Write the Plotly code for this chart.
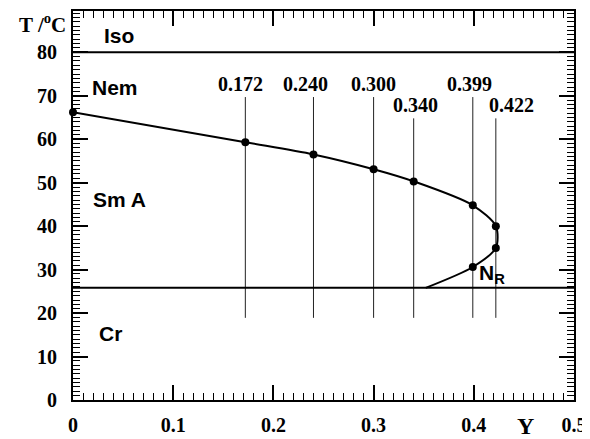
import plotly.graph_objects as go

# Phase boundary data (Y, T in °C)
curve_Y = [0.0, 0.172, 0.240, 0.300, 0.340, 0.399, 0.422, 0.422, 0.399, 0.352]
curve_T = [66.2, 59.3, 56.5, 53.1, 50.3, 44.8, 40.0, 35.0, 30.6, 25.8]
marker_Y = [0.0, 0.172, 0.240, 0.300, 0.340, 0.399, 0.422, 0.422, 0.399]
marker_T = [66.2, 59.3, 56.5, 53.1, 50.3, 44.8, 40.0, 35.0, 30.6]

# Vertical composition lines
comp_Y = [0.172, 0.240, 0.300, 0.340, 0.399, 0.422]
comp_labels = ["0.172", "0.240", "0.300", "0.340", "0.399", "0.422"]
comp_top = [69.7, 69.7, 69.7, 64.8, 69.7, 64.8]
comp_bottom = 18.9

# Transition temperatures
T_iso = 80.0
T_cr = 25.8

# Region labels
regions = ["Iso", "Nem", "Sm A", "Cr"]
region_Y = [0.029, 0.017, 0.018, 0.024]
region_T = [83.8, 71.8, 46.2, 15.4]

x_ticks = [0, 0.1, 0.2, 0.3, 0.4, 0.5]
x_ticklabels = ["0", "0.1", "0.2", "0.3", "0.4", "0.5"]
y_ticks = [0, 10, 20, 30, 40, 50, 60, 70, 80]

serif = "Liberation Serif, Times New Roman, serif"
sans = "Liberation Sans, Arial, sans-serif"

fig = go.Figure()

for y, top in zip(comp_Y, comp_top):
    fig.add_trace(go.Scatter(x=[y, y], y=[comp_bottom, top], mode="lines",
                             line=dict(color="#222", width=1), showlegend=False,
                             hoverinfo="skip"))

for t in [T_iso, T_cr]:
    fig.add_trace(go.Scatter(x=[0, 0.5], y=[t, t], mode="lines",
                             line=dict(color="black", width=2), showlegend=False,
                             hoverinfo="skip"))

fig.add_trace(go.Scatter(x=curve_Y, y=curve_T, mode="lines",
                         line=dict(color="black", width=2, shape="spline", smoothing=0.8),
                         showlegend=False))
fig.add_trace(go.Scatter(x=marker_Y, y=marker_T, mode="markers",
                         marker=dict(color="black", size=8), showlegend=False,
                         cliponaxis=False))

ann = []
label_shift = [-5, -8, 0, 2, -3, 16]
for y, top, lab, sh in zip(comp_Y, comp_top, comp_labels, label_shift):
    ann.append(dict(x=y, y=top, text="<b>%s</b>" % lab, showarrow=False, xshift=sh, yshift=0,
                    yanchor="bottom", xanchor="center",
                    font=dict(family=serif, size=20, color="black")))
for lab, x, y in zip(regions, region_Y, region_T):
    ann.append(dict(x=x, y=y, text="<b>%s</b>" % lab, showarrow=False,
                    xanchor="left", yanchor="middle",
                    font=dict(family=sans, size=21, color="black")))
ann.append(dict(x=0.399, y=29.0, text="<b>N<sub>R</sub></b>", showarrow=False,
                xanchor="left", yanchor="middle", xshift=4,
                font=dict(family=sans, size=21, color="black")))
ann.append(dict(x=0.452, y=0, text="<b>Y</b>", showarrow=False, yshift=-11,
                xanchor="center", yanchor="top",
                font=dict(family=serif, size=24, color="black")))
ann.append(dict(x=0, y=1, xref="paper", yref="paper", text="<b>T /<sup>o</sup>C</b>",
                showarrow=False, xanchor="right", yanchor="top", xshift=-5, yshift=3,
                font=dict(family=serif, size=21, color="black")))

axis_common = dict(showline=True, linecolor="black", linewidth=2, mirror="ticks",
                   ticks="inside", ticklen=15, tickwidth=1.5, tickcolor="black",
                   showgrid=False, zeroline=False, automargin=False,
                   tickfont=dict(family=serif, size=20, color="black"))

# The page places the figure 8px in from the top-left corner, so the
# figure is sized to fill the remaining window.
fig.update_layout(
    width=582, height=431,
    margin=dict(l=65, r=16, t=3, b=39, autoexpand=False),
    paper_bgcolor="white", plot_bgcolor="white",
    xaxis=dict(range=[0, 0.5], tickvals=x_ticks,
               ticktext=["<b>%s</b>" % t for t in x_ticklabels],
               minor=dict(dtick=0.01, ticks="inside", ticklen=7, tickcolor="black", tickwidth=1),
               ticklabelstandoff=6, ticklabeloverflow="allow", **axis_common),
    yaxis=dict(range=[0, 89.5], tickvals=y_ticks,
               ticktext=["<b>%d</b>" % t for t in y_ticks],
               minor=dict(dtick=1, ticks="inside", ticklen=7, tickcolor="black", tickwidth=1),
               ticklabelstandoff=10, **axis_common),
    annotations=ann,
)

fig.write_html("out.html")
